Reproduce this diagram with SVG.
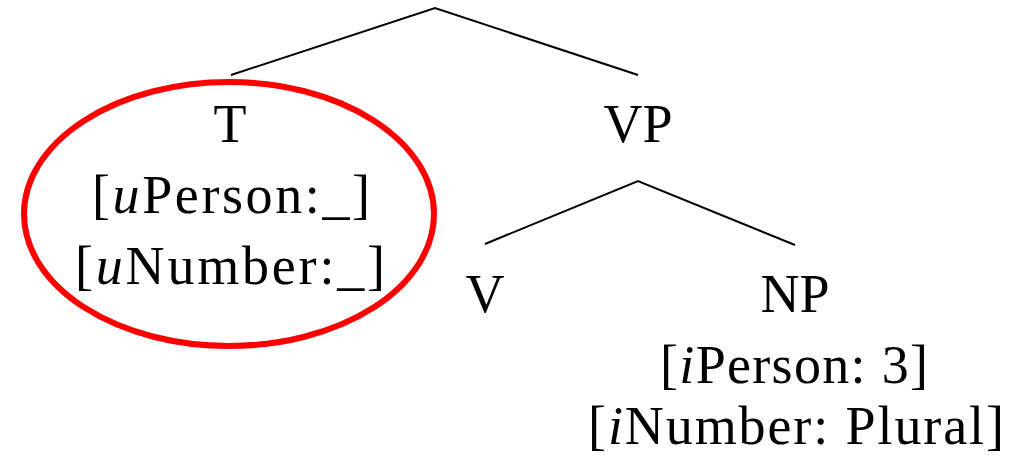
<svg xmlns="http://www.w3.org/2000/svg" width="1011" height="456" viewBox="0 0 1011 456">
<style>
text{font-family:"Liberation Serif","DejaVu Serif",serif;font-size:54px;fill:#000;text-anchor:middle}
.i{font-style:italic}
.edge{stroke:#000;stroke-width:2;fill:none}
</style>
<rect width="1011" height="456" fill="#fff"/>
<g id="connectors">
<polyline class="edge" points="231,75 435,8 638,75"/>
<polyline class="edge" points="485,244 638,181 795,245"/>
</g>
<g id="node-T">
<text x="230" y="142">T</text>
<text x="231" y="213" textLength="278">[<tspan class="i">u</tspan>Person:_]</text>
<text x="230" y="284" textLength="310">[<tspan class="i">u</tspan>Number:_]</text>
<ellipse cx="229" cy="214" rx="205" ry="132" fill="none" stroke="#f00" stroke-width="6"/>
</g>
<g id="node-VP"><text x="638" y="142">VP</text></g>
<g id="node-V"><text x="485" y="312">V</text></g>
<g id="node-NP">
<text x="795" y="312">NP</text>
<text x="794" y="383" textLength="268">[<tspan class="i">i</tspan>Person: 3]</text>
<text x="796" y="444" textLength="416">[<tspan class="i">i</tspan>Number: Plural]</text>
</g>
</svg>
